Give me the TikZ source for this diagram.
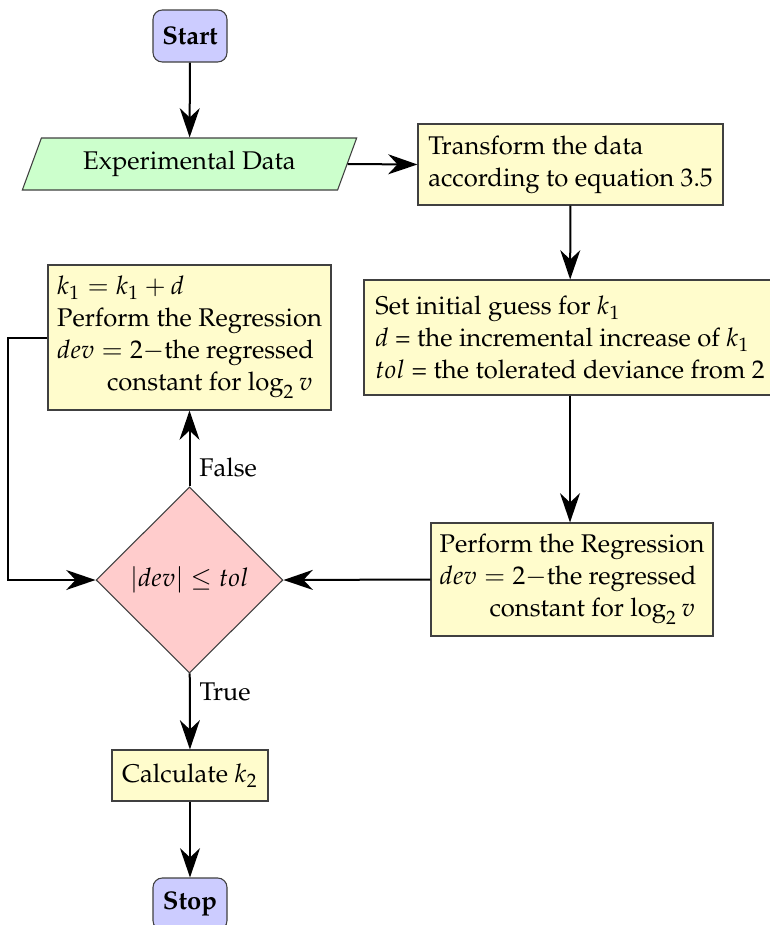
\documentclass[tikz,border=0pt]{standalone}
\usepackage[T1]{fontenc}
\usepackage{mathpazo}
\usetikzlibrary{shapes.geometric,arrows.meta}
\begin{document}
\begin{tikzpicture}[x=0.375pt,y=-0.375pt,
  every node/.style={font=\fontsize{9.6pt}{12pt}\selectfont},
  conn/.style={draw, line width=0.75pt, -{Stealth[length=11pt,width=7.5pt,inset=3.5pt]}},
  term/.style={draw=black!75, fill=blue!20, rounded corners=3.5pt, minimum width=27.75pt, minimum height=19.5pt, inner sep=0pt, font=\fontsize{9.6pt}{12pt}\selectfont\bfseries},
  io/.style={trapezium, trapezium left angle=62, trapezium right angle=118, draw=black!75, fill=green!20, minimum width=125.6pt, minimum height=19.5pt, trapezium stretches=true, inner sep=0pt},
  proc/.style={draw=black!75, fill=yellow!20, align=left, inner sep=0pt},
  dec/.style={diamond, draw=black!75, fill=red!20, inner sep=0pt, minimum width=70.1pt, minimum height=69.75pt, shape aspect=1},
  lbl/.style={anchor=west, inner sep=3.33pt}
]
\useasboundingbox (0,0) rectangle (770,925);
\node[term] (start) at (190,36) {Start};
\node[io] (data) at (189.5,164) {Experimental Data};
\node[proc, minimum width=114.375pt, minimum height=30.375pt] (trans) at (570.5,164.5) {Transform the data\\according to equation 3.5};
\node[proc, minimum width=154.5pt, minimum height=43.125pt] (init) at (570,337.5) {Set initial guess for $k_1$\\$d$ = the incremental increase of $k_1$\\$tol$ = the tolerated deviance from 2};
\node[proc, minimum width=105.75pt, minimum height=42.375pt] (reg) at (572,579.5) {Perform the Regression\\$dev = 2-$the regressed\\\hspace*{18.75pt}constant for $\log_2 v$};
\node[proc, minimum width=106.125pt, minimum height=54.375pt] (upd) at (189.5,337.5) {$k_1 = k_1 + d$\\Perform the Regression\\$dev = 2-$the regressed\\\hspace*{18.75pt}constant for $\log_2 v$};
\node[dec] (cond) at (189.5,580) {$|dev| \leq tol$};
\node[proc, minimum width=58.5pt, minimum height=19.125pt] (calc) at (190,775.5) {Calculate $k_2$};
\node[term] (stop) at (190,904) {Stop};
\coordinate (lx) at (8,580);
\draw[conn] (start) -- (data);
\draw[conn] (data.east) -- (trans.west);
\draw[conn] (trans) -- (init);
\draw[conn] (init.south) -- (init.south |- reg.north);
\draw[conn] (reg.west) -- (cond.east);
\draw[conn] (cond) -- node[lbl, near start] {False} (upd);
\draw[conn] (upd.west) -| (lx) -- (cond.west);
\draw[conn] (cond) -- node[lbl, near start] {True} (calc);
\draw[conn] (calc) -- (stop);
\end{tikzpicture}
\end{document}
